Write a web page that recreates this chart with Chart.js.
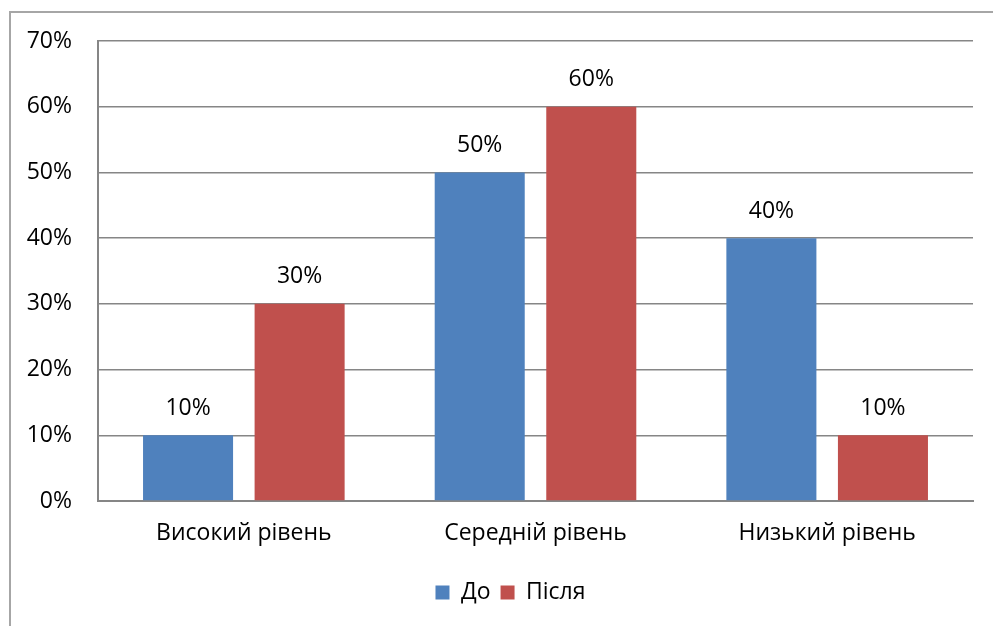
<!DOCTYPE html>
<html>
<head>
<meta charset="utf-8">
<script src="https://cdn.jsdelivr.net/npm/chart.js@4/dist/chart.umd.min.js"></script>
<style>
  html, body { margin: 0; padding: 0; background: #fff; overflow: hidden; }
  #frame { position: absolute; left: 9px; top: 11px; width: 1100px; height: 800px; border: 2px solid #a6a6a6; box-sizing: border-box; }
  #wrap { position: absolute; left: 0; top: 0; width: 993px; height: 626px; }
</style>
</head>
<body>
<div id="frame"></div>
<div id="wrap"><canvas id="c" width="993" height="626"></canvas></div>
<script>
const categories = ['Високий рівень', 'Середній рівень', 'Низький рівень'];
const seriesNames = ['До', 'Після'];
const before = [10, 50, 40];
const after = [30, 60, 10];
const yTicks = [0, 10, 20, 30, 40, 50, 60, 70];

const FONT = '"Open Sans", "Noto Sans", sans-serif';
const FONT_SIZE = 23;

// value labels above each bar
const valueLabels = {
  id: 'valueLabels',
  afterDatasetsDraw(chart) {
    const ctx = chart.ctx;
    ctx.save();
    ctx.font = FONT_SIZE + 'px ' + FONT;
    ctx.fillStyle = '#000';
    ctx.textAlign = 'center';
    ctx.textBaseline = 'middle';
    chart.data.datasets.forEach((ds, i) => {
      chart.getDatasetMeta(i).data.forEach((bar, j) => {
        ctx.fillText(ds.data[j] + '%', bar.x, bar.y - 27);
      });
    });
    ctx.restore();
  }
};

// nudge the legend so it sits under the plot area rather than the full canvas
const legendShift = {
  id: 'legendShift',
  afterLayout(chart) {
    if (chart.legend) {
      chart.legend.left += 24;
      chart.legend.right += 24;
    }
  }
};

new Chart(document.getElementById('c'), {
  type: 'bar',
  data: {
    labels: categories,
    datasets: [
      { label: seriesNames[0], data: before, backgroundColor: '#4F81BD' },
      { label: seriesNames[1], data: after, backgroundColor: '#C0504D' }
    ]
  },
  options: {
    responsive: false,
    animation: false,
    devicePixelRatio: 1,
    categoryPercentage: 0.765,
    barPercentage: 0.807,
    layout: { padding: { top: 41, right: 20, left: 0, bottom: 12 } },
    plugins: {
      legend: {
        position: 'bottom',
        labels: {
          font: { family: FONT, size: FONT_SIZE },
          color: '#000',
          boxWidth: 14,
          boxHeight: 14,
          padding: 10,
          useBorderRadius: false
        }
      },
      tooltip: { enabled: false }
    },
    scales: {
      x: {
        grid: { display: false, drawTicks: false },
        border: { display: true, color: '#868686', width: 2 },
        ticks: { font: { family: FONT, size: FONT_SIZE }, color: '#000', padding: 19 },
        afterFit(scale) { scale.height = 70; }
      },
      y: {
        min: 0,
        max: 70,
        afterBuildTicks(scale) { scale.ticks = yTicks.map(v => ({ value: v })); },
        grid: { color: '#868686', lineWidth: 1.5, drawTicks: false },
        border: { display: true, color: '#868686', width: 2 },
        ticks: {
          font: { family: FONT, size: FONT_SIZE },
          color: '#000',
          padding: 26,
          callback: v => v + '%'
        },
        afterFit(scale) { scale.width = 98; }
      }
    }
  },
  plugins: [valueLabels, legendShift]
});
</script>
</body>
</html>
